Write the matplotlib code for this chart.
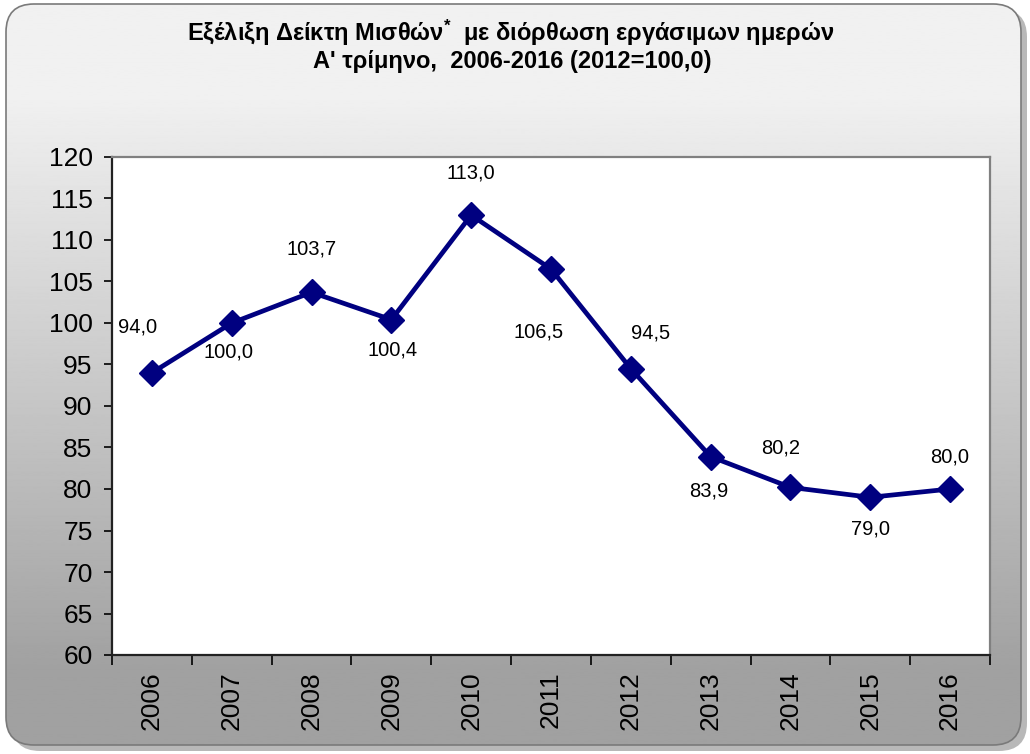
import numpy as np
import matplotlib
matplotlib.use("Agg")
import matplotlib.pyplot as plt
from matplotlib.patches import FancyBboxPatch

plt.rcParams["font.family"] = ["Liberation Sans", "DejaVu Sans"]
plt.rcParams["mathtext.fontset"] = "custom"
plt.rcParams["mathtext.rm"] = "Liberation Sans"
plt.rcParams["mathtext.it"] = "Liberation Sans"
plt.rcParams["mathtext.bf"] = "Liberation Sans:bold"

# ── DATA ─────────────────────────────────────────────────────────
years  = ["2006", "2007", "2008", "2009", "2010", "2011",
          "2012", "2013", "2014", "2015", "2016"]
values = [94.0, 100.0, 103.7, 100.4, 113.0, 106.5, 94.5, 83.9, 80.2, 79.0, 80.0]

# label offsets in points (dx, dy)
label_offsets = [(-10, 33), (-2, -21), (0, 31), (1, -22), (0, 30), (-9, -45),
                 (14, 26), (-1, -25), (-7, 28), (0, -23), (0, 23)]

NAVY = "#000080"

fig = plt.figure(figsize=(10.30, 7.54), dpi=100)

# ── BACKGROUND: rounded frame with grey gradient ────────────────
bg = fig.add_axes([0, 0, 1, 1], zorder=-10)
bg.set_xlim(0, 1030)
bg.set_ylim(754, 0)
bg.axis("off")

shadow = FancyBboxPatch((12, 9), 1015, 742, boxstyle="round,pad=0,rounding_size=28",
                        facecolor="#8a8a8a", edgecolor="none", alpha=0.6)
bg.add_patch(shadow)
frame = FancyBboxPatch((6, 4), 1015, 741, boxstyle="round,pad=0,rounding_size=28",
                       facecolor="none", edgecolor="#7a7a7a", linewidth=1.2)
bg.add_patch(frame)

grad = np.linspace(0, 1, 754)
grad = np.clip((grad - 0.12) / 0.78, 0, 1)
shade = 0.945 - grad * (0.945 - 0.63)
img = bg.imshow(shade[:, None], cmap="gray", vmin=0, vmax=1, aspect="auto",
                extent=(6, 1021, 745, 4), zorder=1)
img.set_clip_path(frame)
frame.set_zorder(2)

# ── TITLE ────────────────────────────────────────────────────────
fig.text(0.496, 0.956, "Εξέλιξη Δείκτη Μισθών$^{\\mathregular{*}}$  με διόρθωση εργάσιμων ημερών",
         ha="center", va="center", fontsize=17, fontweight="bold")
fig.text(0.497, 0.918, "Α' τρίμηνο,  2006-2016 (2012=100,0)",
         ha="center", va="center", fontsize=17, fontweight="bold")

# ── PLOT AREA ────────────────────────────────────────────────────
ax = fig.add_axes([112 / 1030, 1 - 655 / 754, (990 - 112) / 1030, (655 - 157) / 754])
ax.set_facecolor("white")

x = np.arange(len(years))
ax.plot(x, values, color=NAVY, linewidth=3.4, marker="D", markersize=13.5,
        markerfacecolor=NAVY, markeredgecolor=NAVY, zorder=3)

for xi, v, (dx, dy) in zip(x, values, label_offsets):
    ax.annotate(f"{v:.1f}".replace(".", ","), (xi, v), xytext=(dx, dy),
                textcoords="offset points", ha="center", va="center",
                fontsize=14.5, color="black")

ax.set_xlim(-0.5, len(years) - 0.5)
ax.set_ylim(60, 120)
ax.set_yticks(np.arange(60, 121, 5))
ax.tick_params(axis="y", labelsize=19, length=6, width=1.2, pad=8)

# category labels centred, tick marks on the boundaries (Excel style)
ax.set_xticks(x)
ax.set_xticklabels(years, rotation=90, fontsize=19)
ax.tick_params(axis="x", which="major", length=0, pad=12)
ax.set_xticks(np.arange(-0.5, len(years), 1), minor=True)
ax.tick_params(axis="x", which="minor", length=7, width=1.2)

for side in ["left", "bottom"]:
    ax.spines[side].set_color("#222222")
    ax.spines[side].set_linewidth(1.6)
for side in ["top", "right"]:
    ax.spines[side].set_color("#808080")
    ax.spines[side].set_linewidth(1.6)

plt.savefig("out.png", dpi=100)
